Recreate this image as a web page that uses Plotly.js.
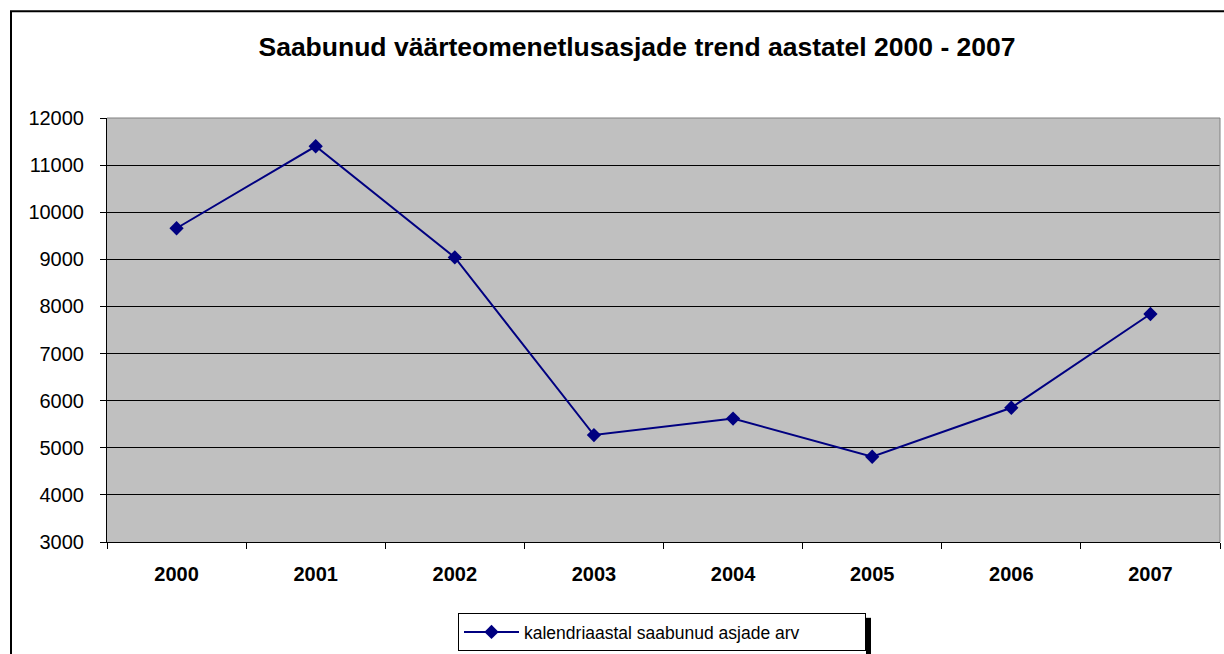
<!DOCTYPE html>
<html>
<head>
<meta charset="utf-8">
<script src="https://cdn.plot.ly/plotly-3.0.1.min.js"></script>
<style>
html,body{margin:0;padding:0;background:#fff;overflow:hidden;}
#chart{width:1224px;height:654px;}
</style>
</head>
<body>
<div id="chart"></div>
<script>
const years = ['2000','2001','2002','2003','2004','2005','2006','2007'];
const cases = [9660, 11400, 9040, 5270, 5620, 4810, 5850, 7840];
const seriesName = 'kalendriaastal saabunud asjade arv';
const chartTitle = 'Saabunud väärteomenetlusasjade trend aastatel 2000 - 2007';
const yTicks = [3000,4000,5000,6000,7000,8000,9000,10000,11000,12000];

const FONT = 'Liberation Sans, Arial, sans-serif';

const trace = {
  type: 'scatter',
  mode: 'lines+markers',
  x: years,
  y: cases,
  name: seriesName,
  line: {color: '#000080', width: 2},
  marker: {symbol: 'diamond', size: 11, color: '#000080'},
  showlegend: true
};

const L = 107, T = 118, W = 1113, H = 425;
function px(x){ return (x - L) / W; }
function py(y){ return (T + H - y) / H; }

const layout = {
  width: 1224,
  height: 654,
  margin: {l: L, r: 1224 - L - W, t: T, b: 654 - T - H, pad: 0},
  paper_bgcolor: '#ffffff',
  plot_bgcolor: '#c0c0c0',
  font: {family: FONT, color: '#000', size: 20},
  title: {
    text: '<b>' + chartTitle + '</b>',
    font: {family: FONT, size: 26.5, color: '#000'},
    x: 637/1224, xanchor: 'center', xref: 'container',
    y: 1 - 47/654, yanchor: 'middle', yref: 'container'
  },
  xaxis: {
    type: 'category',
    tickson: 'boundaries',
    ticks: 'outside',
    ticklen: 6,
    tickcolor: '#000',
    tickwidth: 1,
    showgrid: false,
    showline: true,
    linecolor: '#000',
    linewidth: 1,
    mirror: false,
    tickfont: {family: FONT, size: 20, color: '#000', weight: 'bold'},
    ticklabelstandoff: 14,
    range: [-0.5, 7.5],
    fixedrange: true
  },
  yaxis: {
    range: [3000, 12000],
    tickvals: yTicks,
    ticktext: yTicks.map(String),
    ticks: 'outside',
    ticklen: 6,
    tickcolor: '#000',
    showgrid: true,
    gridcolor: '#000',
    gridwidth: 1,
    showline: true,
    linecolor: '#000',
    linewidth: 1,
    zeroline: false,
    tickfont: {family: FONT, size: 20, color: '#000'},
    ticklabelstandoff: 12,
    fixedrange: true
  },
  legend: {
    orientation: 'h',
    x: px(458), xanchor: 'left',
    y: py(613), yanchor: 'top',
    bgcolor: '#ffffff',
    bordercolor: '#000',
    borderwidth: 1,
    font: {family: FONT, size: 17.5, color: '#000'},
    itemwidth: 55,
    entrywidth: 336,
    entrywidthmode: 'pixels'
  },
  shapes: [
    {type: 'line', xref: 'paper', yref: 'paper', x0: 0, x1: 1, y0: 1, y1: 1, line: {color: '#808080', width: 1}},
    {type: 'line', xref: 'paper', yref: 'paper', x0: 1, x1: 1, y0: 0, y1: 1, line: {color: '#808080', width: 1}},
    {type: 'rect', xref: 'paper', yref: 'paper', x0: px(866), x1: px(871), y0: py(660), y1: py(619), fillcolor: '#000', line: {width: 0}},
    {type: 'rect', xref: 'paper', yref: 'paper', x0: px(11), x1: px(1240), y0: py(680), y1: py(11), fillcolor: 'rgba(0,0,0,0)', line: {color: '#000', width: 2}}
  ]
};

Plotly.newPlot('chart', [trace], layout, {displayModeBar: false, staticPlot: true});
</script>
</body>
</html>
